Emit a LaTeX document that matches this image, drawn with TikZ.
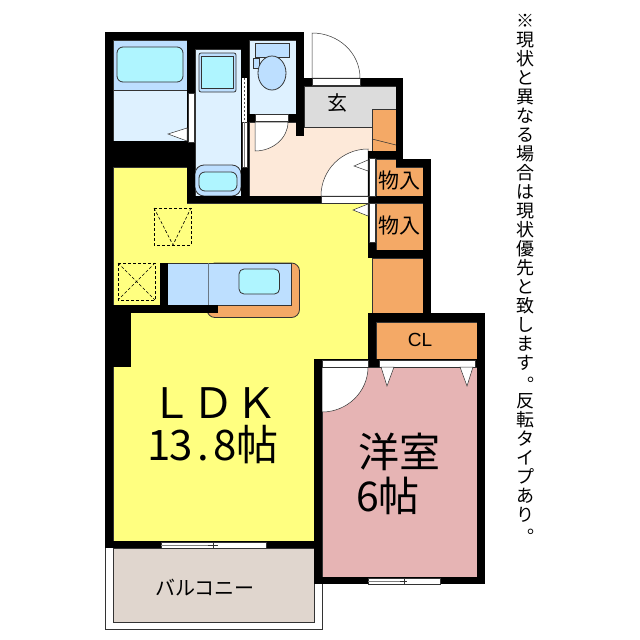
\documentclass[tikz,border=0pt]{standalone}
\usepackage{fontspec}
\setmainfont{Liberation Sans}
\newfontfamily\jp{Noto Sans CJK JP}
\definecolor{cyellow}{HTML}{FFFF80}
\definecolor{cpeach}{HTML}{FDE9D9}
\definecolor{cpale}{HTML}{DEF1FF}
\definecolor{cblue}{HTML}{BDDFFF}
\definecolor{caqua}{HTML}{AFF5FF}
\definecolor{corange}{HTML}{F4A966}
\definecolor{cpink}{HTML}{E6B4B4}
\definecolor{cbalc}{HTML}{E0D6CE}
\definecolor{cgray}{HTML}{DCDCDC}
\definecolor{cline}{HTML}{333333}
\tikzset{
  x=1pt,y=-1pt,
  room/.style={draw=cline,line width=.6pt},
  wall/.style={fill=black,draw=none},
  gap/.style={fill=white,draw=cline,line width=.5pt},
  fix/.style={draw=cline,line width=.8pt},
  dashbox/.style={draw=black,line width=.6pt,densely dashed},
  label/.style={font=\jp\fontsize{#1}{#1}\selectfont,inner sep=0pt,text=black},
  tag/.style={font=\fontsize{19}{19}\selectfont,inner sep=0pt,text=black}
}
\newcommand{\cw}[2]{\makebox[#1pt]{#2}}
\newcommand{\vdot}{\makebox[0pt]{\raisebox{7pt}{\hspace{22pt}。}}}
\begin{document}
\begin{tikzpicture}
\useasboundingbox (0,0) rectangle (640,640);
\fill[white] (0,0) rectangle (640,640);
% balcony
\draw[cline,line width=.7pt] (105,548) -- (105,629) -- (322,629) -- (322,584);
\draw[room,fill=cbalc] (113,548) rectangle (314,622);
% rooms
\draw[room,fill=cyellow] (113,167) -- (187,167) -- (187,203) -- (372,203) -- (372,313) -- (368,313) -- (368,359) -- (314,359) -- (314,541) -- (113,541) -- cycle;
\draw[room,fill=cpeach] (249,122) rectangle (372,196);
\draw[room,fill=cgray] (304,86) rectangle (396,127);
\draw[room,fill=corange] (372,109) rectangle (396,151);
\draw[cline,line width=.6pt] (372,139) -- (396,145);
\draw[room,fill=cpale] (113,40) rectangle (187,141);
\draw[room,fill=cblue] (113,40) rectangle (187,90);
\draw[fix,fill=caqua,rounded corners=6pt] (117,47) rectangle (183,82);
\draw[room,fill=cpale] (195,49) rectangle (241,196);
\draw[room,fill=cpale] (249,40) rectangle (296,114);
\draw[room,fill=corange] (376,159) -- (396,159) -- (396,167) -- (423,167) -- (423,196) -- (376,196) -- cycle;
\draw[room,fill=corange] (376,203) rectangle (423,250);
\draw[room,fill=corange] (372,258) rectangle (423,313);
\draw[room,fill=corange] (376,322) rectangle (477,359);
\draw[room,fill=cpink] (322,367) rectangle (477,577);
% wash room fixtures
\draw[fix,fill=cblue,rounded corners=2pt] (199,53) rectangle (236,92);
\draw[fix,fill=caqua] (201,56) rectangle (233,88);
\draw[fix,fill=cblue,rounded corners=9pt] (195,196) -- (195,165) -- (241,165) -- (241,196) -- cycle;
\draw[fix,fill=caqua,rounded corners=6pt] (199,191) -- (199,172) -- (237,172) -- (237,191) -- cycle;
% toilet
\draw[fix,fill=cblue] (255,43) rectangle (289,57);
\draw[fix,fill=cblue] (253,58) rectangle (259,68);
\draw[fix,fill=cblue] (272,73) ellipse [x radius=14pt,y radius=17pt];
% kitchen
\draw[fix,fill=corange,rounded corners=8pt] (207,263) rectangle (299.5,317.5);
\draw[fix,fill=cblue] (167,263) rectangle (291,305);
\draw[line width=1pt,draw=cline!60!cblue] (208,263) -- (208,305);
\draw[fix,fill=caqua,rounded corners=5pt] (239,269) rectangle (279.5,294);
% dashed boxes
\draw[dashbox] (154,208) rectangle (191,245);
\draw[dashbox] (154,208) -- (173,245) -- (191,208);
\draw[dashbox] (118,263) rectangle (155,300);
\draw[dashbox] (118,263) -- (155,300) (155,263) -- (118,300);
% door swings
\draw[gap] (312,78) -- (312,33) .. controls (338.5,33) and (360,53) .. (360,78) -- cycle;
\draw[gap] (255,122) -- (288,122) .. controls (288,138) and (273,151) .. (255,151) -- cycle;
\draw[gap] (368,196) -- (368,149) .. controls (342,149) and (321,170) .. (321,196) -- cycle;
\draw[gap] (322,367) -- (368,367) .. controls (368,392) and (347,412) .. (322,412) -- cycle;
% walls
\fill[wall] (105,32) rectangle (304,40);
\fill[wall] (187,40) rectangle (249,49);
\fill[wall] (105,32) rectangle (113,548);
\fill[wall] (187,40) rectangle (195,203);
\fill[wall] (105,141) rectangle (195,167);
\fill[wall] (241,40) rectangle (249,203);
\fill[wall] (296,32) rectangle (304,136);
\fill[wall] (241,114) rectangle (296,122);
\fill[wall] (187,196) rectangle (368,203);
\fill[wall] (304,78) rectangle (403,86);
\fill[wall] (396,78) rectangle (403,167);
\fill[wall] (368,151) rectangle (403,159);
\fill[wall] (396,159) rectangle (431,167);
\fill[wall] (423,159) rectangle (431,322);
\fill[wall] (368,151) rectangle (376,258);
\fill[wall] (368,196) rectangle (431,203);
\fill[wall] (368,250) rectangle (431,258);
\fill[wall] (368,313) rectangle (485,322);
\fill[wall] (368,313) rectangle (376,367);
\fill[wall] (477,313) rectangle (485,584);
\fill[wall] (314,359) rectangle (485,367);
\fill[wall] (314,359) rectangle (322,584);
\fill[wall] (314,577) rectangle (485,584);
\fill[wall] (105,541) rectangle (322,548);
\fill[wall] (105,305) rectangle (218,313);
\fill[wall] (105,305) rectangle (131,367);
\fill[wall] (160,263) rectangle (168,313);
% door openings
\draw[gap] (312,78.5) rectangle (360,85.5);
\draw[gap] (255,114.5) rectangle (288,121.5);
\draw[gap] (321,196.5) rectangle (368,203);
\draw[gap] (322,360) rectangle (368,367);
\draw[gap] (379,360) rectangle (475,367);
\draw[gap] (369,158) rectangle (375,196);
\draw[gap] (369,203.5) rectangle (375,242);
\draw[gap] (188,93) rectangle (194,142);
% sliding door of wash room
\fill[white] (242,78) rectangle (247,167);
\draw[cline,line width=.5pt] (242,122) rectangle (247,167);
\draw[black!70,line width=1.4pt,dash pattern=on 2pt off 2pt] (244.5,78) -- (244.5,122);
\draw[black!50,line width=.5pt] (244.5,122) -- (244.5,167);
% door markers
\draw[gap] (168,134) -- (187,128) -- (187,141) -- cycle;
\draw[gap] (354,166) -- (368,160) -- (368,171) -- cycle;
\draw[gap] (353,210) -- (368,204) -- (368,216) -- cycle;
\draw[gap] (381,367) -- (394,367) -- (387,386) -- cycle;
\draw[gap] (460,367) -- (473,367) -- (467,386) -- cycle;
% windows
\draw[gap] (161,542) rectangle (266,548);
\fill[black!50] (161,544.5) rectangle (218,546);
\draw[cline,line width=.5pt] (213,542) -- (213,548) (208,545) -- (218,545);
\draw[gap] (368,578) rectangle (440,584);
\fill[black!50] (368,580.5) rectangle (407,582);
\draw[cline,line width=.5pt] (404,578) -- (404,584) (400,581) -- (407,581);
% labels
\node[label=20] (genkan) at (337,103) {玄};
\node[label=21] (store1) at (399.5,181) {物入};
\node[label=21] (store2) at (399.5,226) {物入};
\node[tag] (cl) at (420,340) {CL};
\node[label=42] (ldk) at (214,403) {\cw{43}{Ｌ}\cw{43}{Ｄ}\cw{43}{Ｋ}};
\node[label=42] (ldkarea) at (213.5,445) {\cw{22}{1}\cw{22}{3}\cw{22}{.}\cw{22}{8}帖};
\node[label=41] (yoshitsu) at (399.5,452) {洋室};
\node[label=41] (yoarea) at (388,496) {6帖};
\node[label=20] (balcony) at (205,588) {バルコニー};
\node[label=18,anchor=north,align=center,font=\jp\fontsize{18}{19}\selectfont] (note) at (525,14)
  {※\\現\\状\\と\\異\\な\\る\\場\\合\\は\\現\\状\\優\\先\\と\\致\\し\\ま\\す\\\vdot\\反\\転\\タ\\イ\\プ\\あ\\り\\\vdot};
\end{tikzpicture}
\end{document}
